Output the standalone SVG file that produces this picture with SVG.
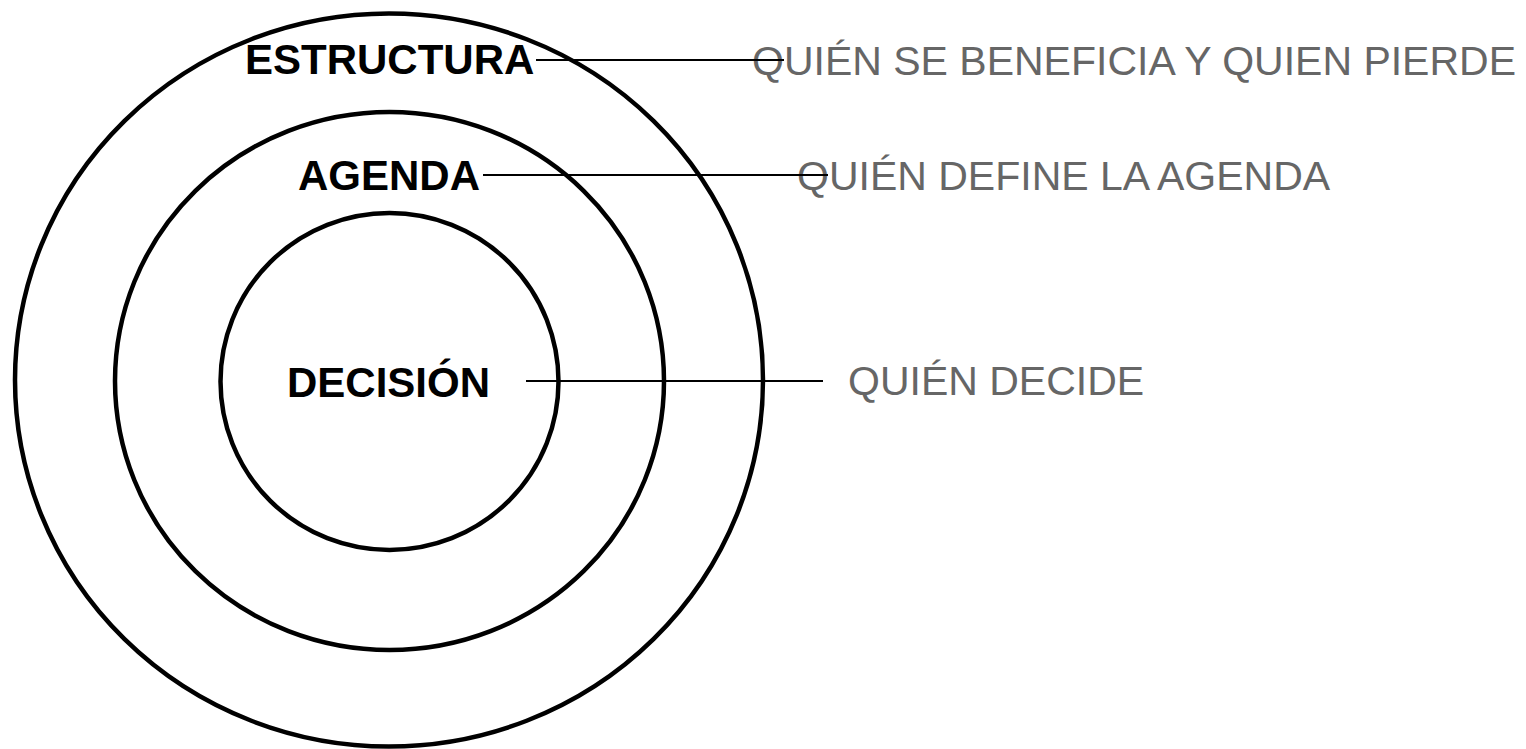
<svg xmlns="http://www.w3.org/2000/svg" width="1526" height="749" viewBox="0 0 1526 749">
<style>
.ring{fill:none;stroke:#000;stroke-width:4.5}
.conn{stroke:#000;stroke-width:2.2;fill:none}
.lbl{font-family:"Liberation Sans",Arial,sans-serif;font-weight:bold;font-size:42px;fill:#000}
.note{font-family:"Liberation Sans",Arial,sans-serif;font-size:41px;fill:#666}
</style>
<rect width="1526" height="749" fill="#fff"/>
<g id="estructura">
<ellipse class="ring" cx="389" cy="380" rx="374" ry="366.5"/>
<text class="lbl" x="245" y="74">ESTRUCTURA</text>
</g>
<g id="agenda">
<ellipse class="ring" cx="389.5" cy="381" rx="274.5" ry="269"/>
<text class="lbl" x="298" y="190">AGENDA</text>
</g>
<g id="decision">
<ellipse class="ring" cx="389.5" cy="381.5" rx="169" ry="168.5"/>
<text class="lbl" x="287" y="397">DECISIÓN</text>
</g>
<g id="quien-beneficia"><text class="note" x="752" y="75">QUIÉN SE BENEFICIA Y QUIEN PIERDE</text></g>
<g id="quien-agenda"><text class="note" x="797" y="190">QUIÉN DEFINE LA AGENDA</text></g>
<g id="quien-decide"><text class="note" x="848" y="395">QUIÉN DECIDE</text></g>
<g id="connectors">
<line class="conn" x1="536" y1="60" x2="784" y2="60"/>
<line class="conn" x1="483" y1="175" x2="828" y2="175"/>
<line class="conn" x1="526" y1="381" x2="823" y2="381"/>
</g>
</svg>
